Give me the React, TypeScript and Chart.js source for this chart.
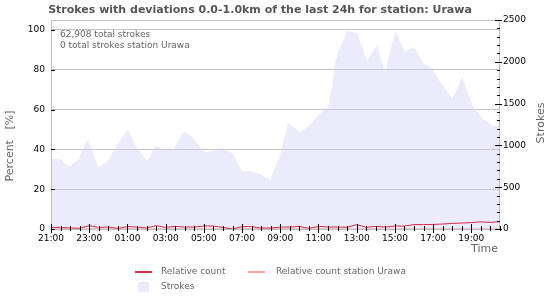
import React, { useEffect, useRef } from "react";
import { Chart, registerables } from "chart.js";

Chart.register(...registerables);

const titleText = "Strokes with deviations 0.0-1.0km of the last 24h for station: Urawa";
const infoLines = ["62,908 total strokes", "0 total strokes station Urawa"];

// hours since 21:00
const strokeHours = [0, 0.52, 0.79, 1.0, 1.41, 1.94, 2.46, 2.93, 3.46, 4.03, 4.4, 4.71, 5.03, 5.45, 5.97, 6.39, 6.96, 7.38, 7.7, 8.06, 8.48, 8.95, 9.48, 10.0, 10.42, 10.94, 11.47, 11.73, 11.99, 12.41, 13.04, 13.56, 13.98, 14.5, 14.71, 14.87, 15.03, 15.5, 16.02, 16.54, 17.07, 17.49, 18.01, 18.53, 19.01, 19.48, 19.95, 20.37, 21.0, 21.52, 22.09, 22.62, 23.09, 23.5];
const strokeCounts = [837, 837, 765, 753, 825, 1076, 741, 800, 1004, 1196, 1004, 909, 813, 993, 945, 945, 1172, 1100, 1004, 921, 933, 969, 909, 694, 694, 658, 586, 741, 885, 1268, 1160, 1244, 1363, 1459, 1698, 1985, 2117, 2368, 2344, 2009, 2200, 1866, 2368, 2117, 2177, 1985, 1914, 1758, 1555, 1818, 1459, 1316, 1244, 1220];

const relHours = [0, 0.5, 1, 1.5, 2, 2.5, 3, 3.5, 4, 4.5, 5, 5.5, 6, 6.5, 7, 7.5, 8, 8.5, 9, 9.5, 10, 10.5, 11, 11.5, 12, 12.5, 13, 13.5, 14, 14.5, 15, 15.5, 16, 16.5, 17, 17.5, 18, 18.5, 19, 19.5, 20, 20.5, 21, 21.5, 22, 22.5, 23, 23.5];
const relCount = [0.8, 0.8, 0.5, 0.4, 1.7, 0.8, 1.0, 0.3, 1.2, 1.0, 0.5, 1.7, 0.8, 1.3, 1.0, 1.0, 1.5, 1.5, 0.8, 0.0, 1.2, 1.2, 0.5, 0.5, 0.9, 1.0, 1.3, 0.3, 1.3, 1.0, 1.0, 0.9, 2.2, 0.9, 1.3, 1.0, 1.5, 1.5, 2.2, 2.2, 2.3, 2.5, 2.8, 3.0, 3.2, 3.6, 3.3, 3.7];
const relCountStation = [0, 0, 0, 0, 0, 0, 0, 0, 0, 0, 0, 0, 0, 0, 0, 0, 0, 0, 0, 0, 0, 0, 0, 0, 0, 0, 0, 0, 0, 0, 0, 0, 0, 0, 0, 0, 0, 0, 0, 0, 0, 0, 0, 0, 0, 0, 0, 0];

const percentTicks = [0, 20, 40, 60, 80, 100];
const strokeTicks = [0, 500, 1000, 1500, 2000, 2500];
const startHour = 21;

const FONT = "'DejaVu Sans', Verdana, sans-serif";

const decorPlugin = {
  id: "decor",
  afterDatasetsDraw(chart: any) {
    const ctx = chart.ctx;
    const a = chart.chartArea;
    const xs = chart.scales.x;
    const y = chart.scales.y;
    const y2 = chart.scales.y2;
    ctx.save();
    ctx.strokeStyle = "#bdbdbd";
    ctx.lineWidth = 1;
    ctx.strokeRect(Math.round(a.left) + 0.5, Math.round(a.top) + 0.5, Math.round(a.right - a.left) - 1, Math.round(a.bottom - a.top));
    ctx.strokeStyle = "#000";
    ctx.beginPath();
    for (let h = 0; h <= 23.5 + 1e-6; h += 0.5) {
      const px = Math.round(xs.getPixelForValue(h)) + 0.5;
      const major = Math.abs(h / 2 - Math.round(h / 2)) < 1e-6;
      ctx.moveTo(px, a.bottom - (major ? 5 : 3));
      ctx.lineTo(px, a.bottom + (major ? 4 : 2));
    }
    for (const v of percentTicks) {
      const py = Math.round(y.getPixelForValue(v)) + 0.5;
      ctx.moveTo(a.left, py);
      ctx.lineTo(a.left + 4, py);
    }
    for (let v = 0; v <= 2500; v += 100) {
      const py = Math.round(y2.getPixelForValue(v)) + 0.5;
      const major = v % 500 === 0;
      ctx.moveTo(a.right - (major ? 5 : 3), py);
      ctx.lineTo(a.right + (major ? 2 : 0), py);
    }
    ctx.stroke();
    ctx.restore();
  },
  afterDraw(chart: any) {
    const ctx = chart.ctx;
    const a = chart.chartArea;
    ctx.save();
    ctx.fillStyle = "#555";
    ctx.font = `bold 11px ${FONT}`;
    ctx.textAlign = "center";
    ctx.textBaseline = "middle";
    ctx.fillText(titleText, 260, 10);
    ctx.font = `9px ${FONT}`;
    ctx.fillStyle = "#666";
    ctx.textAlign = "left";
    ctx.fillText(infoLines[0], a.left + 9, 35);
    ctx.fillText(infoLines[1], a.left + 9, 46);
    ctx.font = `11px ${FONT}`;
    ctx.fillStyle = "#666";
    ctx.save();
    ctx.translate(10, 146);
    ctx.rotate(-Math.PI / 2);
    ctx.textAlign = "center";
    ctx.fillText("Percent   [%]", 0, 0);
    ctx.restore();
    ctx.save();
    ctx.translate(541, 123);
    ctx.rotate(-Math.PI / 2);
    ctx.textAlign = "center";
    ctx.fillText("Strokes", 0, 0);
    ctx.restore();
    ctx.textAlign = "right";
    ctx.fillText("Time", 498, 249);
    const ds = chart.data.datasets;
    ctx.font = `9px ${FONT}`;
    ctx.textAlign = "left";
    ctx.fillStyle = "#666";
    ctx.lineWidth = 2;
    ctx.strokeStyle = ds[0].borderColor;
    ctx.beginPath();
    ctx.moveTo(135, 272);
    ctx.lineTo(152, 272);
    ctx.stroke();
    ctx.fillText(ds[0].label, 161, 272);
    ctx.strokeStyle = ds[1].borderColor;
    ctx.beginPath();
    ctx.moveTo(248, 272);
    ctx.lineTo(265, 272);
    ctx.stroke();
    ctx.fillText(ds[1].label, 276, 272);
    ctx.fillStyle = "#eaeafc";
    ctx.fillRect(138, 282, 11, 10);
    ctx.fillStyle = "#666";
    ctx.fillText(ds[2].label, 161, 287);
    ctx.restore();
  },
};

export default function App() {
  const ref = useRef<HTMLCanvasElement>(null);
  useEffect(() => {
    if (!ref.current) return;
    const chart = new Chart(ref.current, {
      type: "line",
      data: {
        datasets: [
          {
            label: "Relative count",
            data: relHours.map((h, i) => ({ x: h, y: relCount[i] })),
            borderColor: "rgb(220,40,70)",
            borderWidth: 1,
            pointRadius: 0,
            fill: false,
            yAxisID: "y",
            order: 1,
          },
          {
            label: "Relative count station Urawa",
            data: relHours.map((h, i) => ({ x: h, y: relCountStation[i] })),
            borderColor: "rgb(255,160,160)",
            borderWidth: 1,
            pointRadius: 0,
            fill: false,
            yAxisID: "y",
            order: 2,
          },
          {
            label: "Strokes",
            data: strokeHours.map((h, i) => ({ x: h, y: strokeCounts[i] })),
            borderColor: "rgba(0,0,0,0)",
            borderWidth: 0,
            backgroundColor: "rgba(205,205,248,0.4)",
            pointRadius: 0,
            fill: "origin",
            yAxisID: "y2",
            order: 3,
          },
        ],
      },
      options: {
        responsive: false,
        animation: false,
        devicePixelRatio: 1,
        layout: { padding: { top: 20, left: 0, right: 0, bottom: 0 } },
        plugins: { legend: { display: false }, tooltip: { enabled: false }, title: { display: false } },
        scales: {
          x: {
            type: "linear",
            min: 0,
            max: 23.5,
            border: { display: false },
            grid: { display: false, drawTicks: false },
            afterBuildTicks: (s: any) => {
              const t = [];
              for (let h = 0; h <= 23.5; h += 2) t.push({ value: h });
              s.ticks = t;
            },
            afterFit: (s: any) => { s.height = 71; },
            ticks: {
              padding: 4,
              maxRotation: 0,
              autoSkip: false,
              color: "#000",
              font: { family: FONT, size: 9 },
              callback: (v: any) => `${String((startHour + Number(v)) % 24).padStart(2, "0")}:00`,
            },
          },
          y: {
            position: "left",
            min: 0,
            max: 105,
            border: { display: false },
            grid: { color: "#c4c4c4", drawTicks: false, lineWidth: 1 },
            afterBuildTicks: (s: any) => { s.ticks = percentTicks.map((v) => ({ value: v })); },
            afterFit: (s: any) => { s.width = 51; },
            ticks: { padding: 6, color: "#000", font: { family: FONT, size: 9 }, callback: (v: any) => String(v) },
          },
          y2: {
            position: "right",
            min: 0,
            max: 2500,
            border: { display: false },
            grid: { drawOnChartArea: false, drawTicks: false },
            afterBuildTicks: (s: any) => { s.ticks = strokeTicks.map((v) => ({ value: v })); },
            afterFit: (s: any) => { s.width = 50; },
            ticks: { padding: 3, color: "#000", font: { family: FONT, size: 9 }, callback: (v: any) => String(v) },
          },
        },
      },
      plugins: [decorPlugin],
    } as any);
    return () => chart.destroy();
  }, []);
  return (
    <div style={{ position: "absolute", left: 0, top: 0, width: 550, height: 300, background: "#fff" }}>
      <canvas ref={ref} width={550} height={300} />
    </div>
  );
}
